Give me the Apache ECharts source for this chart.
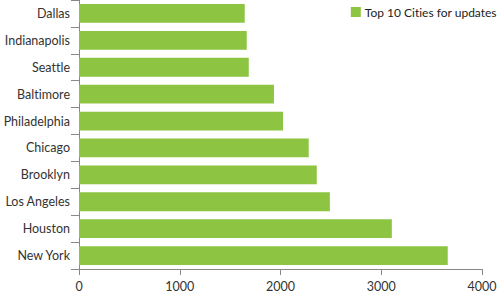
<!DOCTYPE html>
<html>
<head>
<meta charset="utf-8">
<script src="https://cdn.jsdelivr.net/npm/echarts@6/dist/echarts.min.js"></script>
<style>html,body{margin:0;padding:0;background:#fff;}#c{width:500px;height:300px;font-variant-ligatures:none;font-feature-settings:"liga" 0,"clig" 0;}#c text{font-variant-ligatures:none;font-feature-settings:"liga" 0,"clig" 0;}</style>
</head>
<body>
<div id="c"></div>
<script>
var categories = ["New York", "Houston", "Los Angeles", "Brooklyn", "Chicago", "Philadelphia", "Baltimore", "Seattle", "Indianapolis", "Dallas"];
var values = [3660, 3105, 2490, 2360, 2280, 2025, 1935, 1685, 1665, 1645];
var seriesName = "Top 10 Cities for updates";
var xTicks = [0, 1000, 2000, 3000, 4000];

var chart = echarts.init(document.getElementById('c'), null, {renderer: 'svg'});
var font = "Lato, 'Open Sans', sans-serif";
chart.setOption({
  animation: false,
  textStyle: {fontFamily: font},
  legend: {
    right: 3, top: 6, padding: 0,
    itemWidth: 10, itemHeight: 10, itemGap: 4,
    icon: 'rect',
    textStyle: {fontFamily: font, fontSize: 12, color: '#222', padding: [0,0,0,-1]},
    data: [seriesName]
  },
  grid: {left: 79, right: 18, top: 0, bottom: 31, containLabel: false},
  xAxis: {
    type: 'value', min: xTicks[0], max: xTicks[xTicks.length-1], interval: 1000,
    axisLine: {show: true, lineStyle: {color: '#888', width: 1}},
    axisTick: {show: true, length: 6, lineStyle: {color: '#888'}},
    axisLabel: {fontFamily: font, fontSize: 12.5, color: '#333', margin: 11, formatter: function (v) { return String(v); }},
    splitLine: {show: false}
  },
  yAxis: {
    type: 'category', data: categories,
    axisLine: {show: true, lineStyle: {color: '#888', width: 1}},
    axisTick: {show: true, length: 8, lineStyle: {color: '#888'}},
    axisLabel: {fontFamily: font, fontSize: 12.5, color: '#333', margin: 9},
    splitLine: {show: false}
  },
  series: [{
    name: seriesName, type: 'bar', data: values,
    barWidth: '70%',
    itemStyle: {color: '#8DC441'}
  }]
});
</script>
</body>
</html>
